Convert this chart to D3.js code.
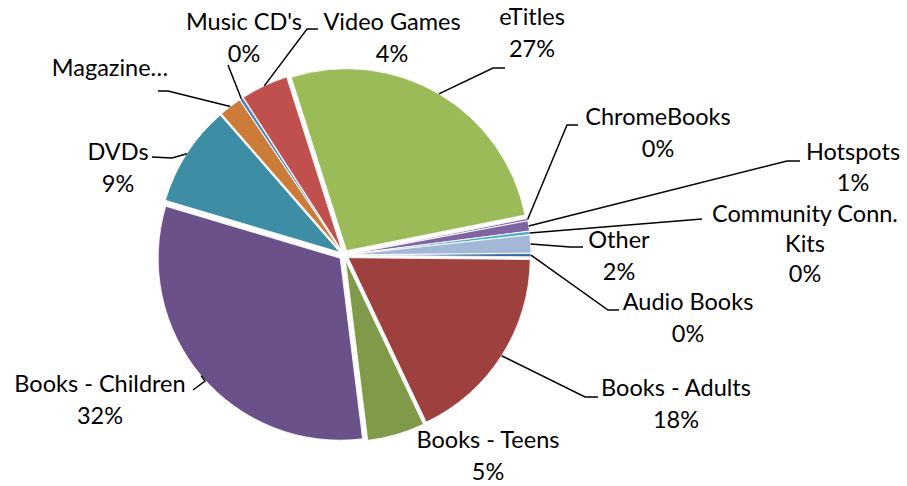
<!DOCTYPE html>
<html>
<head>
<meta charset="utf-8">
<script src="https://cdn.jsdelivr.net/npm/d3@7"></script>
<style>
  body { margin: 0; background: #fff; }
  svg text { font-family: Lato, "Open Sans", sans-serif; font-size: 23.5px; fill: #000; }
</style>
</head>
<body>
<svg id="chart" width="907" height="486"></svg>
<script>
// slices clockwise, starting just right of 3 o'clock
var categories = ["Audio Books", "Books - Adults", "Books - Teens", "Books - Children", "DVDs", "Magazines",
  "Music CD's", "Video Games", "eTitles", "ChromeBooks", "Hotspots", "Community Conn. Kits", "Other"];
var values = [0.3, 17.8, 5.1, 31.6, 9.0, 2.0, 0.3, 4.2, 26.8, 0.2, 0.9, 0.3, 1.6];
var colors = ["#3B6BA5", "#9E403D", "#7F9A48", "#6B5189", "#3D8DA5", "#CC7B38",
  "#4F81BD", "#C0504D", "#9BBB59", "#8064A2", "#8064A2", "#4BACC6", "#A5B7D7"];

var width = 907, height = 486;
var cx = 344, cy = 255, radius = 182, explode = 5;
var startDeg = 89.5;
var lineGap = 32;

// label placement: centre of first text line, leader elbow and end
var labelLayout = {
  "Audio Books":        {x: 688, y: 302, elbow: [608, 310], end: [619, 310]},
  "Books - Adults":     {x: 676, y: 388, elbow: [585, 397], end: [598, 397]},
  "Books - Teens":      {x: 488, y: 440},
  "Books - Children":   {x: 100, y: 384, elbow: [205, 381], end: [193, 390]},
  "DVDs":               {x: 118, y: 152, elbow: [172, 158], end: [152, 157]},
  "Magazines":          {x: 110, y: 68, lines: ["Magazine…"], elbow: [168, 91], end: [158, 91]},
  "Music CD's":         {x: 244, y: 22, elbow: [228, 65], end: [228, 65]},
  "Video Games":        {x: 392, y: 22, elbow: [307, 29], end: [318, 29]},
  "eTitles":            {x: 532, y: 17, elbow: [493, 68], end: [505, 68]},
  "ChromeBooks":        {x: 658, y: 117, elbow: [567, 125], end: [578, 125]},
  "Hotspots":           {x: 853, y: 152, gap: 31, elbow: [787, 161], end: [800, 161]},
  "Community Conn. Kits": {x: 805, y: 214, gap: 30, lines: ["Community Conn.", "Kits"], elbow: [702, 219], end: [702, 219]},
  "Other":              {x: 619, y: 240, elbow: [570, 247], end: [583, 247]}
};

var svg = d3.select("#chart");
var total = d3.sum(values);
var data = categories.map(function(c, i) { return {name: c, value: values[i], color: colors[i]}; });

var start = startDeg * Math.PI / 180;
var pie = d3.pie().sort(null).value(function(d) { return d.value; })
  .startAngle(start).endAngle(start + 2 * Math.PI);
var arc = d3.arc().innerRadius(0).outerRadius(radius);
var arcs = pie(data);

function mid(d) { return (d.startAngle + d.endAngle) / 2; }

var g = svg.append("g").attr("transform", "translate(" + cx + "," + cy + ")");

g.selectAll("path.slice").data(arcs).enter().append("path")
  .attr("class", "slice")
  .attr("d", arc)
  .attr("fill", function(d) { return d.data.color; })
  .attr("stroke", "#fff")
  .attr("stroke-width", 0.8)
  .attr("transform", function(d) {
    var a = mid(d);
    return "translate(" + (explode * Math.sin(a)) + "," + (-explode * Math.cos(a)) + ")";
  });

// leader lines
var leaders = svg.append("g");
arcs.forEach(function(d) {
  var L = labelLayout[d.data.name];
  if (!L.elbow) return;
  var a = mid(d);
  var r = radius + explode;
  var p0 = [cx + r * Math.sin(a), cy - r * Math.cos(a)];
  leaders.append("polyline")
    .attr("points", [p0, L.elbow, L.end].map(function(p) { return p.join(","); }).join(" "))
    .attr("fill", "none")
    .attr("stroke", "#000")
    .attr("stroke-width", 1.5);
});

// labels
var labels = svg.append("g");
arcs.forEach(function(d) {
  var L = labelLayout[d.data.name];
  var lines = (L.lines || [d.data.name]).slice();
  if (d.data.name !== "Magazines") lines.push(Math.round(d.data.value / total * 100) + "%");
  var t = labels.append("text")
    .attr("text-anchor", "middle");
  lines.forEach(function(s, i) {
    t.append("tspan")
      .attr("x", L.x)
      .attr("y", L.y + i * (L.gap || lineGap))
      .attr("dy", "0.35em")
      .text(s);
  });
});
</script>
</body>
</html>
